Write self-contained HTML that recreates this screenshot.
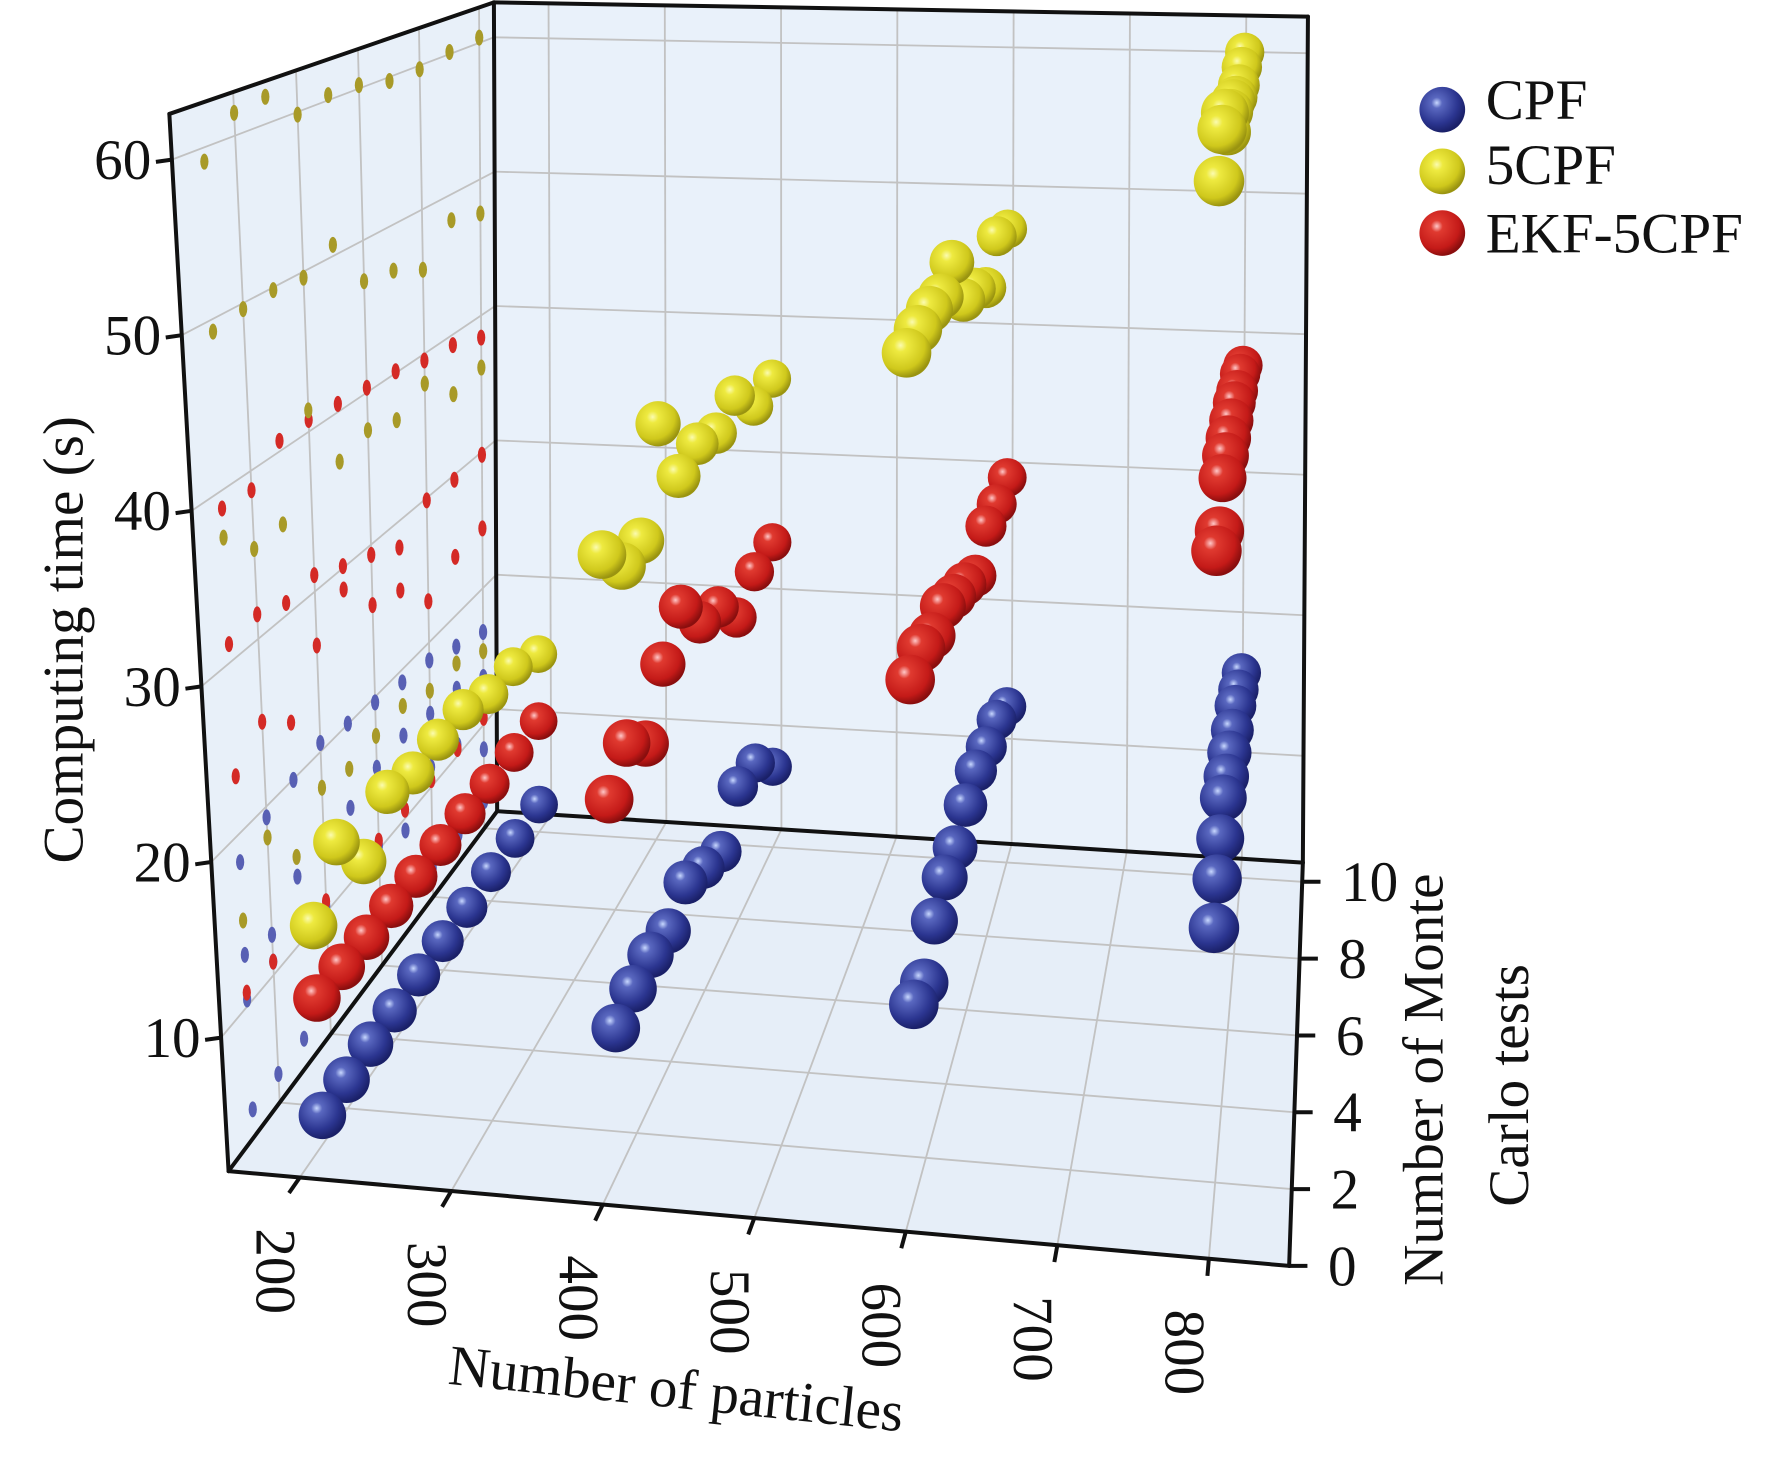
<!DOCTYPE html>
<html><head><meta charset="utf-8"><style>
html,body{margin:0;padding:0;background:#fff;}
svg{display:block;}
text{font-family:"Liberation Serif","DejaVu Serif","Times New Roman",serif;fill:#111;}
</style></head><body>
<svg id="chart" width="1792" height="1467" viewBox="0 0 1568 1284" preserveAspectRatio="none" xmlns="http://www.w3.org/2000/svg" font-family="Liberation Serif, DejaVu Serif, serif">
<defs>
<radialGradient id="gBlue" cx="0.38" cy="0.35" r="0.65"><stop offset="0" stop-color="#c8d8ff"/><stop offset="0.18" stop-color="#5a68c0"/><stop offset="0.7" stop-color="#2b3590"/><stop offset="1" stop-color="#1a2068"/></radialGradient>
<radialGradient id="gYellow" cx="0.38" cy="0.35" r="0.65"><stop offset="0" stop-color="#fbfbb0"/><stop offset="0.2" stop-color="#eeea40"/><stop offset="0.75" stop-color="#cfc81c"/><stop offset="1" stop-color="#9a9410"/></radialGradient>
<radialGradient id="gRed" cx="0.38" cy="0.35" r="0.65"><stop offset="0" stop-color="#ffc8c8"/><stop offset="0.2" stop-color="#e03a30"/><stop offset="0.75" stop-color="#c41a18"/><stop offset="1" stop-color="#8a0e0e"/></radialGradient>
</defs>
<g id="walls"></g>
<g id="grid"></g>
<g id="shadows"></g>
<g id="edges"></g>
<g id="balls"></g>
<g id="ticks"></g>
<text x="0" y="0" font-size="50" text-anchor="middle" transform="translate(72,560) rotate(-90)">Computing time (s)</text>
<text x="0" y="0" font-size="50" text-anchor="middle" transform="translate(590,1232) rotate(6)">Number of particles</text>
<text x="0" y="0" font-size="50" text-anchor="middle" transform="translate(1262,945) rotate(-90)">Number of Monte</text>
<text x="0" y="0" font-size="50" text-anchor="middle" transform="translate(1337,950) rotate(-90)">Carlo tests</text>
<g>
<g><circle cx="1262" cy="96" r="20" fill="url(#gBlue)"/><text x="1300" y="104" font-size="50">CPF</text></g>
<g><circle cx="1262" cy="150" r="20" fill="url(#gYellow)"/><text x="1300" y="161" font-size="50">5CPF</text></g>
<g><circle cx="1262" cy="204" r="20" fill="url(#gRed)"/><text x="1300" y="221" font-size="50">EKF-5CPF</text></g>
</g>
</svg>
<script>
const particles = [200, 400, 600, 800];
const monteCarlo = [1,2,3,4,5,6,7,8,9,10];
const cpf200 = [4.0,4.1,4.2,4.2,4.3,4.3,4.3,4.4,4.4,4.4];
const cpf400 = [10.4,10.8,10.9,10.4,11.4,10.3,9.2,11.4,10.8,8.2];
const cpf600 = [13.0,12.4,14.1,14.8,14.7,15.4,15.6,15.1,14.8,13.5];
const cpf800 = [18.4,19.4,20.0,20.6,20.1,19.7,19.2,18.8,17.8,16.8];
const ekf200 = [10.8,10.8,10.7,10.7,10.6,10.6,10.6,10.5,10.5,10.5];
const ekf400 = [23.4,25.1,23.5,26.7,28.7,26.1,25.4,22.9,24.2,24.4];
const ekf600 = [31.1,31.5,30.8,31.1,30.2,29.4,28.3,29.9,29.7,29.8];
const ekf800 = [39.0,38.9,40.7,40.8,40.6,40.4,40.2,39.6,39.3,38.4];
const c5pf200 = [15.0,18.2,15.3,17.8,17.2,17.5,17.6,16.7,16.6,15.4];
const c5pf400 = [37.3,35.4,35.6,41.4,36.9,37.6,36.9,38.0,35.8,36.2];
const c5pf600 = [49.3,49.7,49.9,49.7,50.8,47.4,47.0,45.9,48.2,47.5];
const c5pf800 = [59.2,61.4,61.7,59.9,60.4,60.3,59.8,59.8,60.2,60.4];
const timeTicks = [10,20,30,40,50,60];
const particleTicks = [200,300,400,500,600,700,800];
const mcTicks = [0,2,4,6,8,10];

const P0=153,P1=853,M1=10.5,T0=2.4,T1=62.6;
function bil(u,v,a,b,c,d){return (1-v)*((1-u)*a+u*b)+v*((1-u)*c+u*d);}
function proj(p,m,t){
  const u=(p-P0)/(P1-P0), v=m/M1;
  const fx=bil(u,v,200,1128,435,1140), fy=bil(u,v,1025,1108,710,755);
  const s=bil(u,v,15.37,16.5,11.76,12.3), lean=bil(u,v,-0.056,0.012,-0.004,0.006);
  const h=(t-T0)*s; return [fx+lean*h, fy-h, s];
}
const NS="http://www.w3.org/2000/svg";
function mk(tag,parent,attrs){const e=document.createElementNS(NS,tag);for(const k in attrs)e.setAttribute(k,attrs[k]);parent.appendChild(e);return e;}
function pts(a){return a.map(q=>q[0].toFixed(1)+","+q[1].toFixed(1)).join(" ");}
const walls=document.getElementById('walls'), grid=document.getElementById('grid'), edges=document.getElementById('edges');
let el;
el=mk('polygon',walls,{points:pts([proj(P0,0,T0),proj(P1,0,T0),proj(P1,M1,T0),proj(P0,M1,T0)]),fill:'#e6eef8'});


el=mk('polygon',walls,{points:pts([proj(P0,0,T0),proj(P0,M1,T0),proj(P0,M1,T1),proj(P0,0,T1)]),fill:'#e8f0f9'});


el=mk('polygon',walls,{points:pts([proj(P0,M1,T0),proj(P1,M1,T0),proj(P1,M1,T1),proj(P0,M1,T1)]),fill:'#e9f1fa'});


const gs={stroke:'#c2c2c2','stroke-width':1.6,fill:'none'};
function gl(a,b,name){el=mk('line',grid,Object.assign({x1:a[0],y1:a[1],x2:b[0],y2:b[1]},gs));

}
particleTicks.forEach(p=>{gl(proj(p,0,T0),proj(p,M1,T0),'floor-grid-x');gl(proj(p,M1,T0),proj(p,M1,T1),'back-grid-x');});
mcTicks.forEach(m=>{if(m>0){gl(proj(P0,m,T0),proj(P1,m,T0),'floor-grid-z');gl(proj(P0,m,T0),proj(P0,m,T1),'left-grid-z');}});
timeTicks.forEach(t=>{gl(proj(P0,0,t),proj(P0,M1,t),'left-grid-y');gl(proj(P0,M1,t),proj(P1,M1,t),'back-grid-y');});
const es={stroke:'#111','stroke-width':3.5,fill:'none'};
function ed(a,b,name){el=mk('line',edges,Object.assign({x1:a[0],y1:a[1],x2:b[0],y2:b[1],'stroke-linecap':'round'},es));

}
ed(proj(P0,0,T0),proj(P0,0,T1),'y-axis-line');
ed(proj(P0,0,T1),proj(P0,M1,T1),'left-wall-top-edge');
ed(proj(P0,M1,T0),proj(P0,M1,T1),'back-left-edge');
ed(proj(P0,M1,T1),proj(P1,M1,T1),'back-wall-top-edge');
ed(proj(P1,M1,T0),proj(P1,M1,T1),'back-right-edge');
ed(proj(P0,0,T0),proj(P1,0,T0),'x-axis-line');
ed(proj(P1,0,T0),proj(P1,M1,T0),'z-axis-line');
ed(proj(P0,0,T0),proj(P0,M1,T0),'floor-left-edge');
ed(proj(P0,M1,T0),proj(P1,M1,T0),'floor-back-edge');

const series=[
 {name:'cpf',grad:'url(#gBlue)',shadow:'#5860b4',data:[cpf200,cpf400,cpf600,cpf800]},
 {name:'ekf-5cpf',grad:'url(#gRed)',shadow:'#d42a26',data:[ekf200,ekf400,ekf600,ekf800]},
 {name:'5cpf',grad:'url(#gYellow)',shadow:'#a89a28',data:[c5pf200,c5pf400,c5pf600,c5pf800]}
];
const shadows=document.getElementById('shadows'), balls=document.getElementById('balls');
const list=[];
series.forEach(s=>{s.data.forEach((arr,gi)=>{arr.forEach((t,k)=>{
  const m=monteCarlo[k], p=particles[gi];
  const sp=proj(P0,m,t);
  el=mk('ellipse',shadows,{cx:sp[0],cy:sp[1],rx:3.6,ry:7,fill:s.shadow});
  
  
  list.push({s,p,m,t});
});});});
list.sort((a,b)=>(b.m-a.m)||(a.t-b.t));
list.forEach(o=>{
  const q=proj(o.p,o.m,o.t);
  el=mk('circle',balls,{cx:q[0].toFixed(1),cy:q[1].toFixed(1),r:(q[2]*1.38).toFixed(1),fill:o.s.grad});
  
  
});
const ticks=document.getElementById('ticks');
function tk(a,b,name){el=mk('line',ticks,{x1:a[0],y1:a[1],x2:b[0],y2:b[1],stroke:'#111','stroke-width':3.5});

}
function tx(x,y,str,anchor,rot,name){el=mk('text',ticks,{x:0,y:0,'font-size':50,'text-anchor':anchor,transform:'translate('+x.toFixed(1)+','+y.toFixed(1)+') rotate('+rot+')'});
el.textContent=str;

}
timeTicks.forEach(t=>{const a=proj(P0,0,t);tk(a,[a[0]-14,a[1]+2],'y-tick');tx(a[0]-18,a[1]+17,String(t),'end',0,'y-tick-label');});
particleTicks.forEach(p=>{const a=proj(p,0,T0);const b=proj(p,-0.45,T0);tk(a,b,'x-tick');tx(a[0]-38,a[1]+82,String(p),'middle',90,'x-tick-label');});
mcTicks.forEach(m=>{const a=proj(P1,m,T0);tk(a,[a[0]+16,a[1]],'z-tick');tx(a[0]+34,a[1]+17,String(m),'start',0,'z-tick-label');});
</script>
</body></html>
